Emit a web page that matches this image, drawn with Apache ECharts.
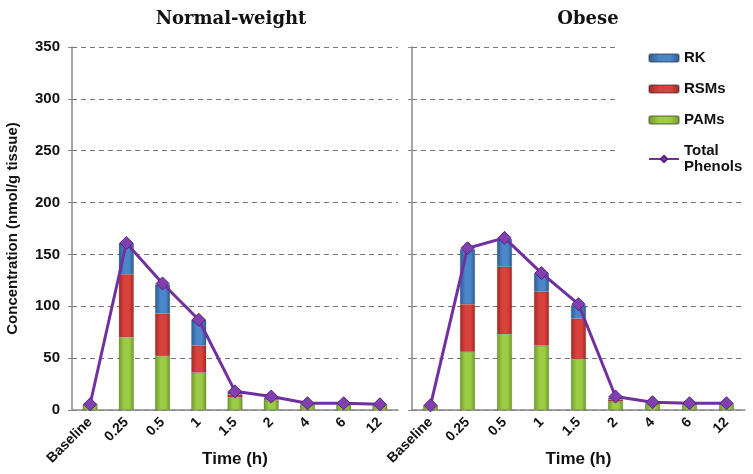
<!DOCTYPE html>
<html>
<head>
<meta charset="utf-8">
<script src="https://cdn.jsdelivr.net/npm/echarts@6/dist/echarts.min.js"></script>
<style>html,body{margin:0;padding:0;background:#fff}#c{width:753px;height:474px}</style>
</head>
<body>
<div id="c"></div>
<script>
const categories = ['Baseline', '0.25', '0.5', '1', '1.5', '2', '4', '6', '12'];
const yTicks = [0, 50, 100, 150, 200, 250, 300, 350];
const panelTitles = ['Normal-weight', 'Obese'];

const nwPAMs  = [5, 70, 52, 36, 12, 9, 5, 5, 4.5];
const nwRSMs  = [0.5, 61, 41, 26, 3, 1.5, 0.5, 0.5, 0.5];
const nwRK    = [0.5, 30, 28, 25, 3, 1.5, 0.5, 0.5, 0.5];
const nwTotal = [5.5, 161, 122, 87, 18, 13, 6.5, 6.5, 5.5];

const obPAMs  = [3.5, 56, 73, 62, 49, 8, 6, 5.5, 5.5];
const obRSMs  = [0.3, 46, 65, 52, 39, 2, 0.5, 0.5, 0.5];
const obRK    = [0.3, 53, 27, 18, 13, 2, 0.5, 0.5, 0.5];
const obTotal = [4.5, 156, 166, 132, 102, 13, 7.5, 6.5, 6.5];

function grad(c1, c2) {
  return new echarts.graphic.LinearGradient(0, 0, 1, 0, [
    {offset: 0, color: c2}, {offset: 0.35, color: c1}, {offset: 0.7, color: c1}, {offset: 1, color: c2}
  ]);
}
const colRK = grad('#4a86c8', '#2a5a94');
const colRSM = grad('#d8423c', '#a62622');
const colPAM = grad('#9ccb45', '#6e9a28');
const purple = '#7030a0';

const labelFont = {fontFamily: 'Liberation Sans, Arial, sans-serif', fontWeight: 'bold', color: '#111'};

function xAxis(gi) {
  return {
    type: 'category', gridIndex: gi, data: categories,
    axisLine: {lineStyle: {color: '#888', width: 1.5}},
    axisTick: {show: false},
    axisLabel: Object.assign({rotate: 45, fontSize: 14, margin: 10, interval: 0}, labelFont),
    name: 'Time (h)', nameLocation: 'middle', nameGap: 41, nameMoveOverlap: false,
    nameTextStyle: Object.assign({fontSize: 17}, labelFont)
  };
}
function yAxis(gi, showLabels) {
  return {
    type: 'value', gridIndex: gi, min: 0, max: 350, interval: 50,
    axisLine: {show: true, lineStyle: {color: '#888', width: 1.5}},
    axisTick: {show: true, length: 4, lineStyle: {color: '#888'}},
    axisLabel: Object.assign({show: showLabels, fontSize: 15, margin: 12,
      formatter: v => yTicks.indexOf(v) >= 0 ? String(v) : ''}, labelFont),
    splitLine: {show: true, lineStyle: {color: '#777', type: [5, 4], width: 1}},
    name: showLabels ? 'Concentration (nmol/g tissue)' : '',
    nameLocation: 'middle', nameGap: 52, nameMoveOverlap: false,
    nameTextStyle: Object.assign({fontSize: 15}, labelFont)
  };
}
function bar(name, data, gi, color) {
  return {
    name: name, type: 'bar', stack: 's' + gi, xAxisIndex: gi, yAxisIndex: gi,
    data: data, barWidth: 15,
    itemStyle: {color: color, borderColor: 'rgba(40,40,40,0.35)', borderWidth: 0.5}
  };
}
function line(data, gi) {
  return {
    name: 'Total Phenols', type: 'line', xAxisIndex: gi, yAxisIndex: gi, data: data,
    symbol: 'diamond', symbolSize: 13, z: 5,
    lineStyle: {color: purple, width: 3},
    itemStyle: {color: '#8040b0', borderColor: '#5a2080', borderWidth: 1}
  };
}

const chart = echarts.init(document.getElementById('c'), null, {renderer: 'canvas'});
chart.setOption({
  backgroundColor: '#fff',
  animation: false,
  title: [
    {text: panelTitles[0], left: 226, top: 5, textAlign: 'center',
      textStyle: {fontFamily: 'DejaVu Serif, Liberation Serif, serif', fontWeight: 'bold', fontSize: 18, color: '#111'}},
    {text: panelTitles[1], left: 583, top: 5, textAlign: 'center',
      textStyle: {fontFamily: 'DejaVu Serif, Liberation Serif, serif', fontWeight: 'bold', fontSize: 18, color: '#111'}}
  ],
  grid: [
    {left: 72, top: 47, width: 326, bottom: 64, outerBoundsMode: 'none', containLabel: false},
    {left: 412, top: 47, width: 333, bottom: 64, outerBoundsMode: 'none', containLabel: false}
  ],
  legend: {
    orient: 'vertical', left: 617, top: 42, padding: [8, 8, 10, 31],
    backgroundColor: '#fff', itemGap: 15, itemWidth: 30, itemHeight: 8,
    data: ['RK', 'RSMs', 'PAMs', 'Total Phenols'],
    formatter: n => n === 'Total Phenols' ? 'Total\nPhenols' : n,
    textStyle: Object.assign({fontSize: 15, lineHeight: 16}, labelFont)
  },
  xAxis: [xAxis(0), xAxis(1)],
  yAxis: [yAxis(0, true), yAxis(1, false)],
  series: [
    bar('PAMs', nwPAMs, 0, colPAM),
    bar('RSMs', nwRSMs, 0, colRSM),
    bar('RK', nwRK, 0, colRK),
    line(nwTotal, 0),
    bar('PAMs', obPAMs, 1, colPAM),
    bar('RSMs', obRSMs, 1, colRSM),
    bar('RK', obRK, 1, colRK),
    line(obTotal, 1)
  ]
});
</script>
</body>
</html>
